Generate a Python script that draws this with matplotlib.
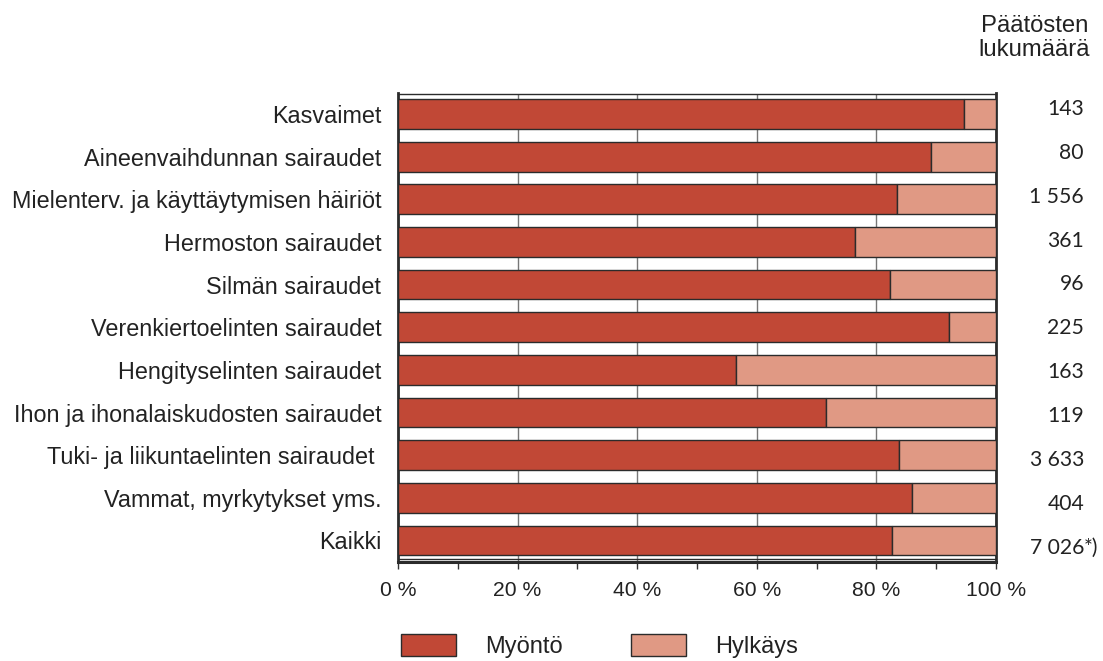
import matplotlib
matplotlib.use("Agg")
import matplotlib.pyplot as plt
from matplotlib.ticker import MultipleLocator, FuncFormatter

plt.rcParams['font.family'] = ['Liberation Sans', 'DejaVu Sans']

categories = [
    "Kasvaimet",
    "Aineenvaihdunnan sairaudet",
    "Mielenterv. ja käyttäytymisen häiriöt",
    "Hermoston sairaudet",
    "Silmän sairaudet",
    "Verenkiertoelinten sairaudet",
    "Hengityselinten sairaudet",
    "Ihon ja ihonalaiskudosten sairaudet",
    "Tuki- ja liikuntaelinten sairaudet ",
    "Vammat, myrkytykset yms.",
    "Kaikki",
]
myonto = [94.6, 89.1, 83.4, 76.5, 82.3, 92.2, 56.5, 71.6, 83.8, 86.0, 82.6]
hylkays = [100 - v for v in myonto]
counts = ["143", "80", "1 556", "361", "96", "225", "163", "119", "3 633", "404", "7 026"]
count_suffix = ["", "", "", "", "", "", "", "", "", "", "*)"]
xticks = [0, 20, 40, 60, 80, 100]

c_yes = "#C14836"
c_no = "#E09984"
edge = "#2b2b2b"
txt = "#222222"
W, H = 1103, 661

fig = plt.figure(figsize=(W/100, H/100), dpi=100)
ax_top, ax_bot = 93.5, 562
ax = fig.add_axes([398/W, 1 - ax_bot/H, (996-398)/W, (ax_bot-ax_top)/H])

y = list(range(len(categories)))
h = 0.70
ax.barh(y, myonto, height=h, color=c_yes, edgecolor=edge, linewidth=1.0, label="Myöntö", zorder=3)
ax.barh(y, hylkays, left=myonto, height=h, color=c_no, edgecolor=edge, linewidth=1.0, label="Hylkäys", zorder=3)

ax.set_xlim(0, 100)
ylo, yhi = 10.505, -0.48
ax.set_ylim(ylo, yhi)
ax.set_yticks(y)
ax.set_yticklabels(categories, fontsize=16.8, color=txt)
ax.tick_params(axis='y', length=0, pad=12)

ax.set_xticks(xticks)
ax.xaxis.set_major_formatter(FuncFormatter(lambda v, p: f"{int(v)} %"))
ax.xaxis.set_minor_locator(MultipleLocator(10))
ax.tick_params(axis='x', which='both', direction='out', length=5, width=1, color="#333333",
               labelsize=15.2, labelcolor=txt, pad=8.5)
ax.grid(axis='x', color="#777777", linewidth=1.0, zorder=0)
# thin line just above the bottom axis
ax.axhline(ylo - 3.5/42.65, color="#2b2b2b", linewidth=1.0, zorder=4)

for s in ['left', 'right']:
    ax.spines[s].set_linewidth(2.0)
    ax.spines[s].set_color(edge)
ax.spines['top'].set_linewidth(1.0)
ax.spines['top'].set_color(edge)
ax.spines['bottom'].set_linewidth(2.2)
ax.spines['bottom'].set_color(edge)

# counts on the right (own row spacing)
c_top, c_pitch = 109.0, 43.85
for i, (c, suf) in enumerate(zip(counts, count_suffix)):
    yf = 1 - (c_top + i * c_pitch) / H
    fig.text(1084/W, yf, c, ha='right', va='center', fontsize=15.2, color=txt, family='Lato')
    if suf:
        fig.text(1084/W, yf, suf, ha='left', va='center', fontsize=15.2, color=txt, family='Lato')

fig.text(1088/W, 1 - 32/H, "Päätösten", ha='right', va='baseline', fontsize=17.2, color=txt)
fig.text(1090/W, 1 - 55.5/H, "lukumäärä", ha='right', va='baseline', fontsize=17.2, color=txt)

fs_leg = 17.0
leg = fig.legend(loc='center left', bbox_to_anchor=(392/W, 1 - 646/H), ncol=2,
                 frameon=False, fontsize=fs_leg, handlelength=2.33, handleheight=1.06,
                 handletextpad=1.23, columnspacing=2.88, borderaxespad=0)
for t in leg.get_texts():
    t.set_color(txt)

fig.savefig("out.png", dpi=100)
